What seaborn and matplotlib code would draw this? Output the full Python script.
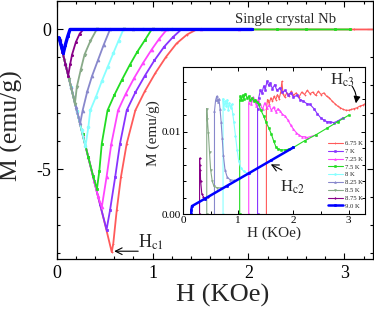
import numpy as np
import pandas as pd
import matplotlib
matplotlib.use("Agg")
import matplotlib.pyplot as plt
import seaborn as sns
from matplotlib.ticker import MultipleLocator, FixedLocator

sns.set_theme(style="ticks")
plt.rcParams['font.family'] = ['Liberation Serif', 'DejaVu Serif']
plt.rcParams['mathtext.fontset'] = 'stix'
plt.rcParams['axes.unicode_minus'] = False

# ---------------- data: main panel (virgin M(H) curves) ----------------
labels = ["6.75 K", "7 K", "7.25 K", "7.5 K", "8 K", "8.25 K", "8.5 K", "8.75 K", "9.0 K"]
colors = ["#ff5a5a", "#8833ff", "#ff44ff", "#22dd22", "#88ffff", "#8888cc", "#88aa88", "#880088", "#0000ff"]
markers = ["+", "s", "^", "s", "o", "^", "v", "*", "s"]

H_675 = [0.03, 0.09, 0.15, 0.21, 0.27, 0.33, 0.39, 0.45, 0.51, 0.574, 0.59, 0.626, 0.67, 0.73, 0.82, 0.92, 1.03, 1.14, 1.25, 1.36, 1.46, 1.7, 2.0, 2.3, 2.6, 2.9, 3.1, 3.3]
M_675 = [-0.38, -1.22, -2.06, -2.90, -3.74, -4.57, -5.40, -6.22, -7.04, -7.95, -7.65, -6.46, -5.27, -4.08, -2.89, -2.20, -1.55, -0.98, -0.50, -0.18, 0, 0, 0, 0, 0, 0, 0, 0]
H_700 = [0.03, 0.09, 0.15, 0.21, 0.27, 0.33, 0.39, 0.45, 0.52, 0.556, 0.61, 0.66, 0.73, 0.82, 0.92, 1.02, 1.12, 1.21, 1.30, 1.6, 1.9]
M_700 = [-0.38, -1.22, -2.06, -2.90, -3.74, -4.57, -5.40, -6.22, -7.15, -6.46, -5.27, -4.08, -2.89, -2.25, -1.65, -1.10, -0.62, -0.28, 0, 0, 0]
H_725 = [0.03, 0.09, 0.15, 0.21, 0.27, 0.33, 0.39, 0.43, 0.47, 0.52, 0.57, 0.64, 0.72, 0.81, 0.90, 0.99, 1.07, 1.15, 1.5, 1.9]
M_725 = [-0.38, -1.22, -2.06, -2.90, -3.74, -4.57, -5.40, -5.95, -6.35, -5.27, -4.08, -2.89, -2.30, -1.72, -1.20, -0.72, -0.33, 0, 0, 0]
H_750 = [0.03, 0.09, 0.15, 0.21, 0.27, 0.33, 0.38, 0.42, 0.445, 0.47, 0.53, 0.60, 0.68, 0.76, 0.84, 0.92, 0.99, 1.3, 1.6, 2.0, 2.3, 2.6, 2.9, 3.06]
M_750 = [-0.38, -1.22, -2.06, -2.90, -3.74, -4.57, -5.24, -5.69, -5.04, -4.08, -2.89, -2.35, -1.80, -1.28, -0.80, -0.38, 0, 0, 0, 0, 0, 0, 0, 0]
H_800 = [0.03, 0.09, 0.15, 0.21, 0.26, 0.30, 0.33, 0.35, 0.41, 0.47, 0.53, 0.59, 0.645, 0.696, 0.9, 1.2]
M_800 = [-0.38, -1.22, -2.06, -2.90, -3.60, -4.18, -3.49, -2.89, -2.40, -1.85, -1.35, -0.85, -0.40, 0, 0, 0]
H_825 = [0.03, 0.09, 0.15, 0.20, 0.245, 0.27, 0.32, 0.37, 0.43, 0.49, 0.556, 0.8, 1.1]
M_825 = [-0.38, -1.22, -2.06, -2.76, -3.35, -2.90, -2.20, -1.65, -1.10, -0.55, 0, 0, 0]
H_850 = [0.03, 0.08, 0.13, 0.19, 0.21, 0.25, 0.29, 0.35, 0.417, 0.7, 1.0]
M_850 = [-0.38, -1.08, -1.78, -2.65, -2.05, -1.45, -0.90, -0.42, 0, 0, 0]
H_875 = [0.03, 0.06, 0.09, 0.12, 0.14, 0.16, 0.20, 0.24, 0.278, 0.5, 0.8]
M_875 = [-0.38, -0.80, -1.22, -1.65, -1.25, -0.90, -0.45, -0.15, 0, 0, 0]
H_900 = [0.024, 0.045, 0.069, 0.09, 0.115, 0.139, 0.4, 0.8, 1.2, 1.6, 2.04]
M_900 = [-0.29, -0.55, -0.85, -0.55, -0.25, 0, 0, 0, 0, 0, 0]

main_H = [H_675, H_700, H_725, H_750, H_800, H_825, H_850, H_875, H_900]
main_M = [M_675, M_700, M_725, M_750, M_800, M_825, M_850, M_875, M_900]

# ---------------- data: inset (small positive moment) ----------------
h_675 = [1.51, 1.51, 1.53, 1.56, 1.59, 1.62, 1.65, 1.68, 1.71, 1.74, 1.77, 1.79, 1.81, 1.84, 1.88, 1.92, 1.96, 2.0, 2.05, 2.10, 2.15, 2.20, 2.25, 2.30, 2.35, 2.40, 2.45, 2.50, 2.55, 2.60, 2.65, 2.70, 2.75, 2.80, 2.85, 2.90, 2.95, 3.0, 3.05, 3.10, 3.15, 3.20, 3.25, 3.30]
m_675 = [0, 0.0128, 0.0139, 0.0134, 0.0141, 0.0137, 0.0143, 0.0139, 0.0145, 0.0140, 0.0148, 0.0161, 0.0146, 0.0142, 0.0147, 0.0143, 0.0149, 0.0144, 0.0147, 0.0142, 0.0148, 0.0145, 0.0150, 0.0146, 0.0148, 0.0144, 0.0149, 0.0145, 0.0147, 0.0143, 0.0141, 0.0137, 0.0134, 0.0131, 0.0129, 0.0127, 0.0126, 0.0126, 0.0127, 0.0128, 0.0129, 0.0131, 0.0132, 0.0134]
h_700 = [1.35, 1.35, 1.37, 1.40, 1.43, 1.46, 1.49, 1.52, 1.55, 1.58, 1.62, 1.66, 1.70, 1.75, 1.80, 1.85, 1.90, 1.95, 2.0, 2.06, 2.12, 2.18, 2.24, 2.30, 2.37, 2.43, 2.49, 2.55, 2.61, 2.67, 2.73, 2.8, 2.9]
m_700 = [0, 0.0128, 0.0141, 0.0150, 0.0147, 0.0155, 0.0151, 0.0161, 0.0156, 0.0159, 0.0152, 0.0157, 0.0150, 0.0153, 0.0148, 0.0150, 0.0145, 0.0147, 0.0142, 0.0144, 0.0139, 0.0137, 0.0134, 0.0133, 0.0128, 0.0122, 0.0117, 0.0114, 0.0112, 0.0112, 0.0111, 0.0113, 0.0117]
h_725 = [1.19, 1.19, 1.21, 1.24, 1.27, 1.30, 1.33, 1.36, 1.40, 1.44, 1.48, 1.52, 1.56, 1.60, 1.64, 1.68, 1.72, 1.76, 1.80, 1.85, 1.90, 1.95, 2.0, 2.05, 2.10, 2.15, 2.20, 2.25, 2.4]
m_725 = [0, 0.0135, 0.0140, 0.0134, 0.0142, 0.0137, 0.0131, 0.0139, 0.0133, 0.0127, 0.0135, 0.0129, 0.0132, 0.0126, 0.0130, 0.0124, 0.0128, 0.0125, 0.0121, 0.0119, 0.0114, 0.0108, 0.0103, 0.0099, 0.0096, 0.0094, 0.0094, 0.0093, 0.0096]
h_750 = [1.026, 1.026, 1.04, 1.06, 1.08, 1.10, 1.13, 1.16, 1.19, 1.22, 1.25, 1.28, 1.31, 1.34, 1.37, 1.41, 1.46, 1.50, 1.55, 1.60, 1.64, 1.68, 1.72, 1.78, 1.85, 1.92, 2.0, 2.2, 2.4, 2.6, 2.8, 3.0]
m_750 = [0, 0.0138, 0.0143, 0.0139, 0.0144, 0.0140, 0.0146, 0.0141, 0.0143, 0.0138, 0.0141, 0.0137, 0.0139, 0.0136, 0.0133, 0.0126, 0.0119, 0.0112, 0.0105, 0.0097, 0.0089, 0.0082, 0.0079, 0.0078, 0.0078, 0.0079, 0.0081, 0.0089, 0.0096, 0.0104, 0.0112, 0.0120]
h_800 = [0.725, 0.725, 0.74, 0.76, 0.78, 0.80, 0.82, 0.84, 0.86, 0.88, 0.90, 0.92, 0.95, 0.98, 1.01, 1.05, 1.10, 1.16]
m_800 = [0, 0.0140, 0.0128, 0.0137, 0.0131, 0.0139, 0.0126, 0.0135, 0.0129, 0.0133, 0.0122, 0.0112, 0.0095, 0.0078, 0.0064, 0.0056, 0.0052, 0.0050]
h_825 = [0.57, 0.57, 0.59, 0.61, 0.63, 0.65, 0.67, 0.69, 0.71, 0.73, 0.76, 0.80, 0.85, 0.92]
m_825 = [0, 0.0125, 0.0138, 0.0143, 0.0136, 0.0140, 0.0128, 0.0112, 0.0092, 0.0072, 0.0054, 0.0045, 0.0042, 0.0041]
h_850 = [0.43, 0.43, 0.44, 0.46, 0.48, 0.50, 0.53, 0.56, 0.62, 0.68]
m_850 = [0, 0.0128, 0.0115, 0.0098, 0.0075, 0.0054, 0.0040, 0.0034, 0.0032, 0.0032]
h_875 = [0.30, 0.30, 0.305, 0.31, 0.32, 0.34, 0.37, 0.40, 0.45]
m_875 = [0, 0.0068, 0.0060, 0.0054, 0.0040, 0.0025, 0.0021, 0.0019, 0.0021]
h_900 = [0.15, 0.15, 0.163, 0.4, 0.8, 1.2, 1.6, 2.0]
m_900 = [0, 0.0005, 0.0010, 0.0019, 0.00346, 0.0050, 0.00655, 0.0081]

ins_H = [h_675, h_700, h_725, h_750, h_800, h_825, h_850, h_875, h_900]
ins_M = [m_675, m_700, m_725, m_750, m_800, m_825, m_850, m_875, m_900]

# ---------------- figure ----------------
fig = plt.figure(figsize=(3.74, 3.14), dpi=100)
ax = fig.add_axes([0.1516, 0.175, 0.846, 0.823])

for i, lab in enumerate(labels):
    df = pd.DataFrame({"H": main_H[i], "M": main_M[i]})
    lw = 2.4 if lab == "9.0 K" else 1.3
    sns.lineplot(data=df, x="H", y="M", ax=ax, sort=False, estimator=None,
                 color=colors[i], marker=markers[i], markersize=2.0, lw=lw,
                 markeredgecolor=colors[i], markerfacecolor=colors[i],
                 markeredgewidth=0.6, legend=False)

ax.set_xlim(0, 3.30)
ax.set_ylim(-8.2, 1.03)
ax.xaxis.set_major_locator(FixedLocator([0, 1, 2, 3]))
ax.xaxis.set_minor_locator(MultipleLocator(0.2))
ax.yaxis.set_major_locator(FixedLocator([0, -5]))
ax.yaxis.set_minor_locator(MultipleLocator(1))
ax.set_xticklabels(["0", "1", "2", "3"])
ax.set_yticklabels(["0", "-5"])
ax.tick_params(which="both", direction="in", top=True, right=True, width=0.8, colors="black")
ax.tick_params(which="major", length=4, labelsize=13, pad=4)
ax.tick_params(which="minor", length=2.5)
for sp in ax.spines.values():
    sp.set_linewidth(0.9)
    sp.set_color("black")
ax.set_xlabel("H (KOe)", fontsize=19)
ax.set_ylabel("M (emu/g)", fontsize=18.5)
ax.xaxis.set_label_coords(0.525, -0.095)
ax.yaxis.set_label_coords(-0.108, 0.517)

ax.text(1.86, 0.22, "Single crystal Nb", fontsize=10.5, va="baseline")
ax.annotate("", xy=(0.60, -7.92), xytext=(0.85, -7.92),
            arrowprops=dict(arrowstyle="->", color="black", lw=0.8, shrinkA=0, shrinkB=0))
ax.text(0.845, -7.8, r"H$_{\mathrm{c1}}$", fontsize=13, va="baseline")

# ---------------- inset ----------------
ins = fig.add_axes([0.4893, 0.3175, 0.4874, 0.470])
for i, lab in enumerate(labels):
    df = pd.DataFrame({"H": ins_H[i], "M": ins_M[i]})
    lw = 1.8 if lab == "9.0 K" else 0.8
    sns.lineplot(data=df, x="H", y="M", ax=ins, sort=False, estimator=None,
                 color=colors[i], marker=markers[i], markersize=1.3, lw=lw,
                 markeredgecolor=colors[i], markerfacecolor=colors[i],
                 markeredgewidth=0.5, label=lab)

ins.set_xlim(0, 3.30)
ins.set_ylim(0, 0.01787)
ins.xaxis.set_major_locator(FixedLocator([0, 1, 2, 3]))
ins.xaxis.set_minor_locator(MultipleLocator(0.5))
ins.yaxis.set_major_locator(FixedLocator([0, 0.01]))
ins.yaxis.set_minor_locator(MultipleLocator(0.002))
ins.set_xticklabels(["0", "1", "2", "3"])
ins.set_yticklabels(["0.00", "0.01"])
ins.tick_params(which="both", direction="in", top=True, right=True, width=0.7, colors="black")
ins.tick_params(which="major", length=3, labelsize=8, pad=1.5)
ins.tick_params(which="minor", length=2)
for sp in ins.spines.values():
    sp.set_linewidth(0.8)
    sp.set_color("black")
ins.set_xlabel("H (KOe)", fontsize=11)
ins.set_ylabel("M (emu/g)", fontsize=11)
ins.xaxis.set_label_coords(0.5, -0.08)
ins.yaxis.set_label_coords(-0.125, 0.55)

ins.legend(loc="lower right", bbox_to_anchor=(1.0, 0.02), fontsize=4.8, frameon=False,
           handlelength=2.2, handletextpad=0.3, labelspacing=0.32, borderaxespad=0.2,
           borderpad=0.2)

ins.annotate("", xy=(1.59, 0.00605), xytext=(1.79, 0.00536),
             arrowprops=dict(arrowstyle="->", color="black", lw=0.8, shrinkA=0, shrinkB=0))
ins.text(1.76, 0.00274, r"H$_{\mathrm{c2}}$", fontsize=12, va="baseline")
ins.annotate("", xy=(3.13, 0.01344), xytext=(3.06, 0.01553),
             arrowprops=dict(arrowstyle="-|>", color="black", lw=0.8, mutation_scale=10,
                             shrinkA=0, shrinkB=0, connectionstyle="arc3,rad=-0.2"))
ins.text(2.67, 0.01574, r"H$_{\mathrm{c3}}$", fontsize=12, va="baseline")

fig.savefig("out.png", dpi=100)
